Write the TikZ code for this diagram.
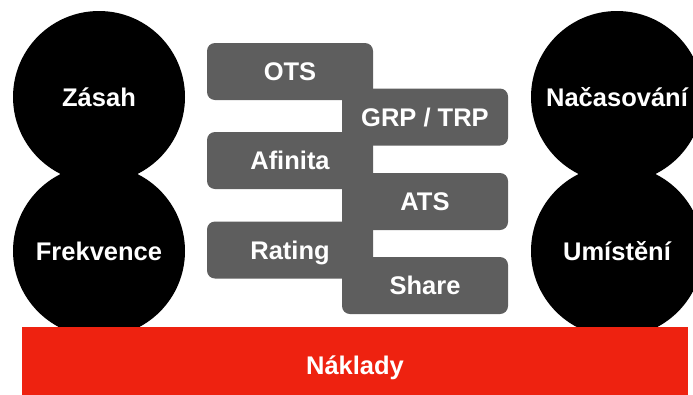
\documentclass[tikz,border=0pt]{standalone}
\usepackage{fontspec}
\setmainfont{Liberation Sans}
\definecolor{metricgray}{HTML}{5E5E5E}
\definecolor{costred}{HTML}{EE2210}
\tikzset{
  label font/.style={font=\fontsize{25.5}{29}\selectfont\bfseries, text=white,
    text height=18pt, text depth=0pt, inner sep=0pt},
  pillar/.style={circle, fill=black, minimum size=172pt, label font},
  metric/.style={rectangle, fill=metricgray, rounded corners=8pt,
    minimum width=166pt, minimum height=57pt, label font},
  basebar/.style={rectangle, fill=costred, minimum width=666pt,
    minimum height=77pt, label font}
}
\begin{document}
\begin{tikzpicture}[x=1pt, y=-1pt]
\useasboundingbox (0,0) rectangle (693,394);
% four pillars
\node[pillar] (zasah) at (99,97) {Zásah};
\node[pillar] (frekvence) at (99,251) {Frekvence};
\node[pillar] (nacasovani) at (617,97) {Načasování};
\node[pillar] (umisteni) at (617,251) {Umístění};
% staggered metric boxes
\node[metric] (ots) at (290,71.5) {OTS};
\node[metric] (grp) at (425,117) {GRP / TRP};
\node[metric] (afinita) at (290,160.5) {Afinita};
\node[metric] (ats) at (425,201.5) {ATS};
\node[metric] (rating) at (290,250) {Rating};
\node[metric] (share) at (425,285.5) {Share};
% cost base
\node[basebar] (naklady) at (355,365.5) {Náklady};
\end{tikzpicture}
\end{document}
